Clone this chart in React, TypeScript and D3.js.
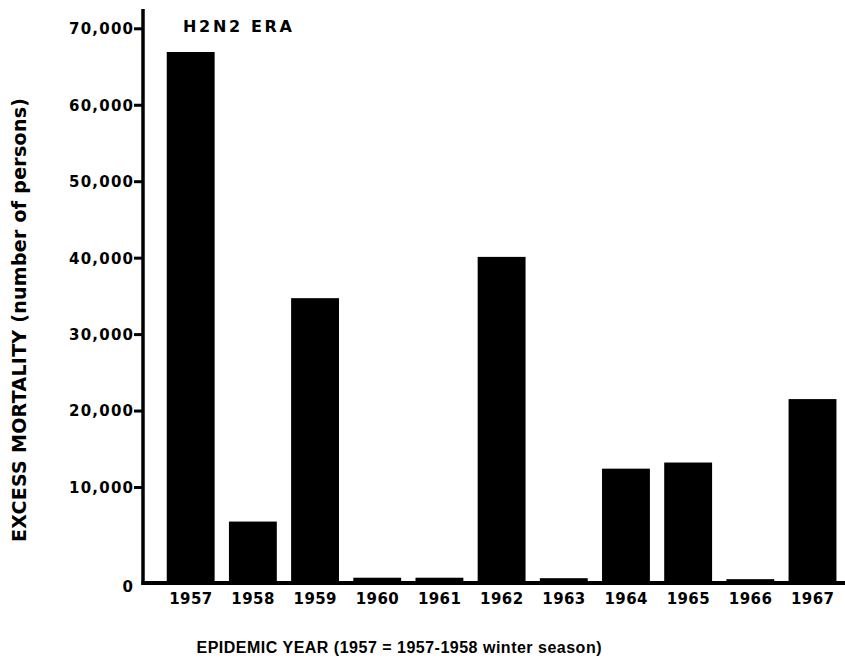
import * as d3 from "d3";
import React, { useRef, useEffect } from "react";

const years = ["1957", "1958", "1959", "1960", "1961", "1962", "1963", "1964", "1965", "1966", "1967"];
const deaths = [66900, 6400, 34700, 550, 550, 40100, 500, 12400, 13200, 400, 21500];
const yTicks = [0, 10000, 20000, 30000, 40000, 50000, 60000, 70000];

const FONT = "'DejaVu Sans', 'Liberation Sans', Arial, sans-serif";
const FONT2 = "'Liberation Sans', Arial, sans-serif";

const App = () => {
  const ref = useRef<SVGGElement>(null);
  const width = 845;
  const height = 659;
  const axisX = 143;
  const baseY = 583;

  useEffect(() => {
    const g = d3.select(ref.current);
    g.selectAll("*").remove();

    const x = d3.scaleBand()
      .domain(years)
      .range([159.6, 843.6])
      .paddingInner(0.23)
      .paddingOuter(0.115);

    // the 0..10,000 stretch is drawn taller than the rest in the original
    const y = d3.scaleLinear()
      .domain([0, 10000, 70000])
      .range([baseY, 487, 28.3]);

    g.selectAll(".bar")
      .data(deaths)
      .join("rect")
      .attr("class", "bar")
      .attr("x", (d, i) => x(years[i])!)
      .attr("width", x.bandwidth())
      .attr("y", d => y(d))
      .attr("height", d => baseY - y(d))
      .attr("fill", "#000");

    const yAxis = d3.axisLeft(y)
      .tickValues(yTicks)
      .tickSize(9)
      .tickPadding(2)
      .tickFormat(d => d3.format(",")(d as number));

    const ya = g.append("g")
      .attr("transform", `translate(${axisX},0)`)
      .call(yAxis);
    ya.select(".domain").remove();
    ya.selectAll(".tick line").attr("stroke", "#000").attr("stroke-width", 3);
    ya.selectAll(".tick")
      .filter(d => d === 0)
      .select("line").remove();
    ya.selectAll(".tick text")
      .attr("fill", "#000")
      .style("font-family", FONT)
      .style("font-weight", 700)
      .style("font-size", "15px")
      .attr("x", -10)
      .attr("dy", "0.36em")
      .each(function (d) {
        if (d !== 0) d3.select(this).attr("textLength", 64).attr("lengthAdjust", "spacing");
      });
    ya.selectAll(".tick")
      .filter(d => d === 0)
      .select("text")
      .attr("y", 3);

    const xAxis = d3.axisBottom(x).tickSize(0).tickPadding(0);
    const xa = g.append("g")
      .attr("transform", `translate(0,${baseY})`)
      .call(xAxis);
    xa.select(".domain").remove();
    xa.selectAll(".tick text")
      .attr("fill", "#000")
      .attr("y", 21)
      .attr("dy", 0)
      .attr("textLength", 43)
      .attr("lengthAdjust", "spacing")
      .style("font-family", FONT)
      .style("font-weight", 700)
      .style("font-size", "15px");

    // axis lines
    g.append("line")
      .attr("x1", axisX).attr("x2", axisX)
      .attr("y1", 9).attr("y2", baseY + 2)
      .attr("stroke", "#000").attr("stroke-width", 3.5);
    g.append("line")
      .attr("x1", axisX - 1.5).attr("x2", width)
      .attr("y1", baseY).attr("y2", baseY)
      .attr("stroke", "#000").attr("stroke-width", 4);
  }, []);

  return (
    <svg width={width} height={height} style={{ position: "absolute", left: 0, top: 0, background: "#fff" }}>
      <g ref={ref} />
      <text x={183} y={32} textLength={109} lengthAdjust="spacing"
        style={{ fontFamily: FONT, fontWeight: 700, fontSize: 16 }}>H2N2 ERA</text>
      <text x={399} y={653} textAnchor="middle" textLength={405} lengthAdjust="spacing"
        style={{ fontFamily: FONT2, fontWeight: 700, fontSize: 16 }}>
        EPIDEMIC YEAR (1957 = 1957-1958 winter season)
      </text>
      <text transform="translate(26,320) rotate(-90)" textAnchor="middle" textLength={444} lengthAdjust="spacing"
        style={{ fontFamily: FONT, fontWeight: 700, fontSize: 19 }}>
        EXCESS MORTALITY (number of persons)
      </text>
    </svg>
  );
};

export default App;
